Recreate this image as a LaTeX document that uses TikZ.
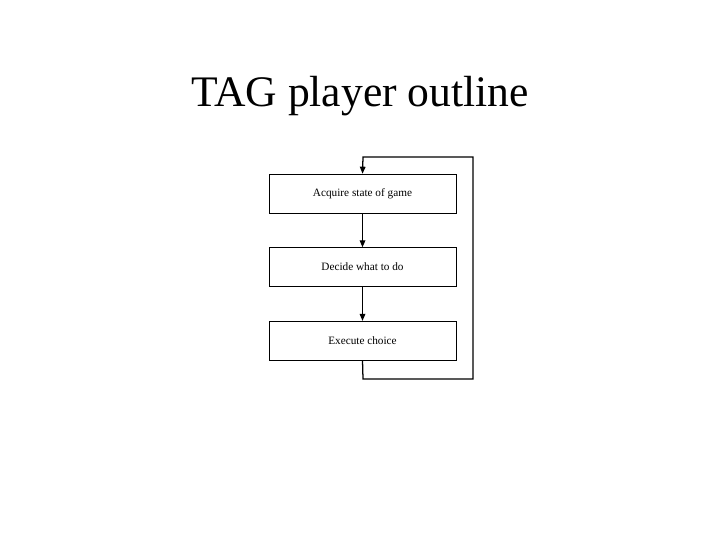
\documentclass[tikz,border=0pt]{standalone}
\usepackage{fontspec}
\setmainfont{Liberation Serif}
\usetikzlibrary{positioning,arrows.meta}
\tikzstyle{stepbox}=[
	draw=black,
	shape=rectangle,
	minimum width=4.675cm,
	minimum height=0.975cm,
	inner sep=0pt,
	font=\fontsize{8pt}{9pt}\selectfont
]
\tikzstyle{flow} = [draw,line width=0.9pt,-{Triangle[length=5pt,width=4pt]}]
\begin{document}
\begin{tikzpicture}[x=0.025cm,y=-0.025cm]
				\useasboundingbox (0,0) rectangle (720,540);
				
				\node[font=\fontsize{31pt}{36pt}\selectfont] (title) at (360,96) {TAG player outline};
				
				\node[stepbox] (acquire) at (362.5,193.5) {Acquire state of game};
				\node[stepbox] (decide) [below=0.85cm of acquire] {Decide what to do};
				\node[stepbox] (execute) [below=0.85cm of decide] {Execute choice};
				
				\coordinate (c1) at (363,379);
				\coordinate (c2) at (473,379);
				\coordinate (c3) at (473,157);
				\coordinate (c4) at (363,157);
				
				\path[flow]
				(acquire) -- (decide);
				\path[flow]
				(decide) -- (execute);
				\path[flow]
				(execute.south) -- (c1) -- (c2) -- (c3) -- (c4) -- (acquire.north);
			
			\end{tikzpicture}
\end{document}
